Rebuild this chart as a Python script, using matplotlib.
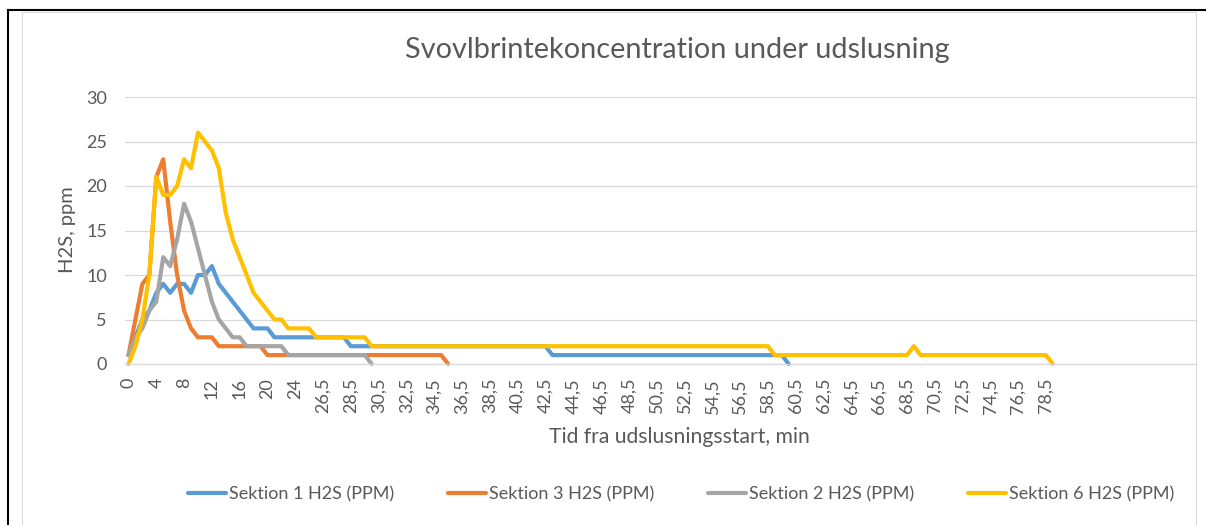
import matplotlib
matplotlib.use("Agg")
import matplotlib.pyplot as plt
from matplotlib.lines import Line2D
from matplotlib.patches import Rectangle

plt.rcParams['font.family'] = ['Lato', 'DejaVu Sans']

# category axis (minutes), one entry per measurement
minutes = [0, 1, 2, 3, 4, 5, 6, 7, 8, 9, 10, 11, 12, 13, 14, 15, 16, 17, 18, 19,
           20, 21, 22, 23, 24, 25, 25.5, 26, 26.5, 27, 27.5, 28, 28.5, 29, 29.5,
           30, 30.5, 31, 31.5, 32, 32.5, 33, 33.5, 34, 34.5, 35, 35.5, 36, 36.5,
           37, 37.5, 38, 38.5, 39, 39.5, 40, 40.5, 41, 41.5, 42, 42.5, 43, 43.5,
           44, 44.5, 45, 45.5, 46, 46.5, 47, 47.5, 48, 48.5, 49, 49.5, 50, 50.5,
           51, 51.5, 52, 52.5, 53, 53.5, 54, 54.5, 55, 55.5, 56, 56.5, 57, 57.5,
           58, 58.5, 59, 59.5, 60, 60.5, 61, 61.5, 62, 62.5, 63, 63.5, 64, 64.5,
           65, 65.5, 66, 66.5, 67, 67.5, 68, 68.5, 69, 69.5, 70, 70.5, 71, 71.5,
           72, 72.5, 73, 73.5, 74, 74.5, 75, 75.5, 76, 76.5, 77, 77.5, 78, 78.5, 79]

sektion1 = [1, 3, 5, 6, 8, 9, 8, 9, 9, 8, 10, 10, 11, 9, 8, 7, 6, 5, 4, 4, 4,
            3, 3, 3, 3, 3, 3, 3, 3, 3, 3, 3,
            2, 2, 2, 2, 2, 2, 2, 2, 2, 2, 2, 2, 2, 2, 2, 2, 2, 2, 2, 2, 2, 2, 2,
            2, 2, 2, 2, 2, 2,
            1, 1, 1, 1, 1, 1, 1, 1, 1, 1, 1, 1, 1, 1, 1, 1, 1, 1, 1, 1, 1, 1, 1,
            1, 1, 1, 1, 1, 1, 1, 1, 1, 1, 1,
            0]
sektion3 = [1, 5, 9, 10, 21, 23, 16, 10, 6, 4, 3, 3, 3,
            2, 2, 2, 2, 2, 2, 2,
            1, 1, 1, 1, 1, 1, 1, 1, 1, 1, 1, 1, 1, 1, 1, 1, 1, 1, 1, 1, 1, 1, 1,
            1, 1, 1,
            0]
sektion2 = [1, 3, 4, 6, 7, 12, 11, 14, 18, 16, 13, 10, 7, 5, 4, 3, 3,
            2, 2, 2, 2, 2, 2,
            1, 1, 1, 1, 1, 1, 1, 1, 1, 1, 1, 1,
            0]
sektion6 = [0, 2, 5, 10, 21, 19, 19, 20, 23, 22, 26, 25, 24, 22, 17, 14, 12, 10,
            8, 7, 6, 5, 5, 4, 4, 4, 4,
            3, 3, 3, 3, 3, 3, 3, 3,
            2, 2, 2, 2, 2, 2, 2, 2, 2, 2, 2, 2, 2, 2, 2, 2, 2, 2, 2, 2, 2, 2, 2,
            2, 2, 2, 2, 2, 2, 2, 2, 2, 2, 2, 2, 2, 2, 2, 2, 2, 2, 2, 2, 2, 2, 2,
            2, 2, 2, 2, 2, 2, 2, 2, 2, 2, 2, 2,
            1, 1, 1, 1, 1, 1, 1, 1, 1, 1, 1, 1, 1, 1, 1, 1, 1, 1, 1, 1,
            2,
            1, 1, 1, 1, 1, 1, 1, 1, 1, 1, 1, 1, 1, 1, 1, 1, 1, 1, 1,
            0]

series = [("Sektion 1 H2S (PPM)", sektion1, "#5B9BD5"),
          ("Sektion 3 H2S (PPM)", sektion3, "#ED7D31"),
          ("Sektion 2 H2S (PPM)", sektion2, "#A5A5A5"),
          ("Sektion 6 H2S (PPM)", sektion6, "#FFC000")]

W, H = 1206, 525
fig = plt.figure(figsize=(W / 100, H / 100), dpi=100)

# outer frame bits
fig.add_artist(Rectangle((22 / W, -0.05), (1196 - 22) / W, 1.05 - 12 / H,
                         transform=fig.transFigure, fill=False,
                         edgecolor="#D9D9D9", lw=0.75))
fig.add_artist(Line2D([8 / W, 1.0], [1 - 10 / H, 1 - 10 / H],
                      transform=fig.transFigure, color="black", lw=1.5))
fig.add_artist(Line2D([8 / W, 8 / W], [0, 1 - 10 / H],
                      transform=fig.transFigure, color="black", lw=1.5))

ax = fig.add_axes([125 / W, 1 - 364 / H, (1196 - 125) / W, (364 - 97) / H])
for name, vals, col in series:
    ax.plot(range(len(vals)), vals, color=col, lw=3.0, label=name,
            solid_joinstyle="round", solid_capstyle="round", clip_on=False)

ax.set_ylim(0, 30)
ax.set_xlim(-0.5, 153.6)
ax.set_yticks(range(0, 31, 5))
ticks = list(range(0, len(minutes) - 1, 4))
ax.set_xticks(ticks)
ax.set_xticklabels([f"{minutes[i]:g}".replace(".", ",") for i in ticks],
                   rotation=90)
ax.tick_params(length=0, colors="#595959", labelsize=13)
ax.tick_params(axis="y", pad=13)
ax.tick_params(axis="x", pad=10)
ax.grid(axis="y", color="#D9D9D9", lw=0.9)
ax.set_axisbelow(True)
for s in ["top", "right", "left"]:
    ax.spines[s].set_visible(False)
ax.spines["bottom"].set_color("#D9D9D9")
ax.spines["bottom"].set_linewidth(0.9)

fig.text(677 / W, 1 - 50 / H, "Svovlbrintekoncentration under udslusning",
         ha="center", va="center", fontsize=20.8, color="#595959")
fig.text(679 / W, 1 - 437 / H, "Tid fra udslusningsstart, min",
         ha="center", va="center", fontsize=15.2, color="#595959")
fig.text(67 / W, 1 - 230 / H, "H2S, ppm", ha="center", va="center",
         rotation=90, fontsize=14.5, color="#595959")

fig.legend(loc="center", bbox_to_anchor=(681 / W, 1 - 494 / H), ncol=4,
           frameon=False, fontsize=13, handlelength=2.1, handletextpad=0.15,
           columnspacing=3.0, labelcolor="#595959")

fig.savefig("out.png", dpi=100)
